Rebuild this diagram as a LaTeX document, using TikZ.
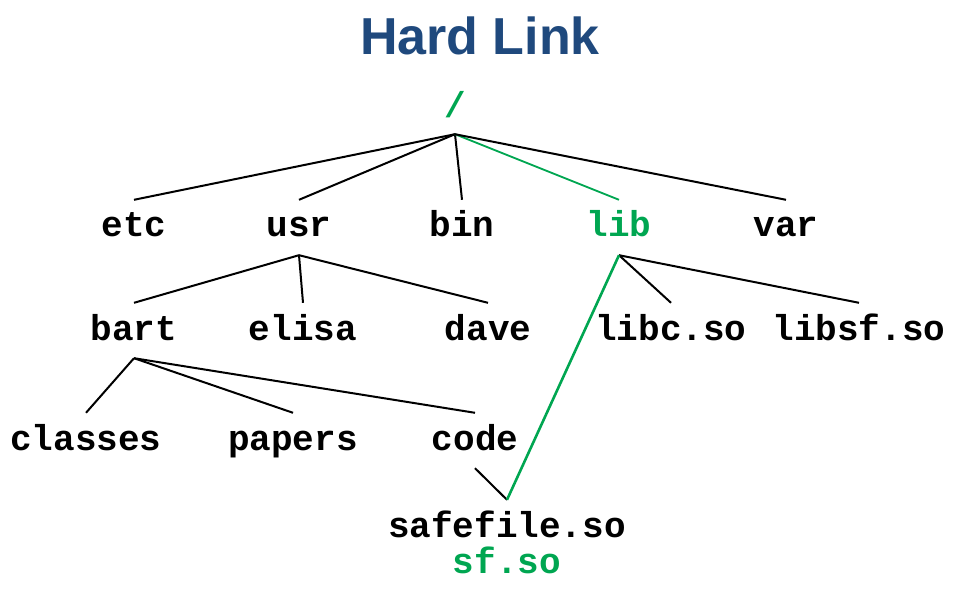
\documentclass[tikz,border=0pt]{standalone}
\usepackage{fontspec}
\newfontfamily\monofnt{Liberation Mono}
\newfontfamily\titlefnt{Liberation Sans}
\definecolor{lkgreen}{RGB}{0,166,81}
\definecolor{lkblue}{RGB}{31,73,125}
\tikzset{
  item/.style={font=\monofnt\bfseries\fontsize{36}{36}\selectfont, text height=27pt, text depth=8pt, inner xsep=0pt, inner ysep=10pt, anchor=base},
  rootstyle/.style={item, text depth=6pt},
  titlestyle/.style={font=\titlefnt\bfseries\fontsize{52}{52}\selectfont, text=lkblue, anchor=base, inner sep=0pt},
  edge/.style={draw=black, line width=2pt},
  gedge/.style={draw=lkgreen, line width=1.8pt},
  glink/.style={draw=lkgreen, line width=2.6pt},
}
\begin{document}
\begin{tikzpicture}[x=1pt,y=-1pt]
\useasboundingbox (0,0) rectangle (957,601);
\node[titlestyle] (title) at (480,55) {Hard Link};
\node[rootstyle, text=lkgreen] (root) at (455,118) {/};
% row 1
\node[item] (etc) at (134,237) {etc};
\node[item] (usr) at (299,237) {usr};
\node[item] (bin) at (462,237) {bin};
\node[item, text=lkgreen] (lib) at (619,237) {lib};
\node[item] (var) at (786,237) {var};
% row 2
\node[item] (bart) at (134,340) {bart};
\node[item] (elisa) at (303,340) {elisa};
\node[item] (dave) at (488,340) {dave};
\node[item] (libc) at (671,340) {libc.so};
\node[item] (libsf) at (859,340) {libsf.so};
% row 3
\node[item] (classes) at (86,450) {classes};
\node[item] (papers) at (293,450) {papers};
\node[item] (code) at (475,450) {code};
% bottom
\node[item] (safe) at (507,537) {safefile.so};
\node[item, text=lkgreen] (sf) at (507,573) {sf.so};
% edges
\draw[edge] (root.south) -- (etc.north);
\draw[edge] (root.south) -- (usr.north);
\draw[edge] (root.south) -- (bin.north);
\draw[gedge] (root.south) -- (lib.north);
\draw[edge] (root.south) -- (var.north);
\draw[edge] (usr.south) -- (bart.north);
\draw[edge] (usr.south) -- (elisa.north);
\draw[edge] (usr.south) -- (dave.north);
\draw[edge] (lib.south) -- (libc.north);
\draw[edge] (lib.south) -- (libsf.north);
\draw[edge] (bart.south) -- (classes.north);
\draw[edge] (bart.south) -- (papers.north);
\draw[edge] (bart.south) -- (code.north);
\draw[edge] (code.south) -- (safe.north);
\draw[glink] (lib.south) -- (safe.north);
\end{tikzpicture}
\end{document}
